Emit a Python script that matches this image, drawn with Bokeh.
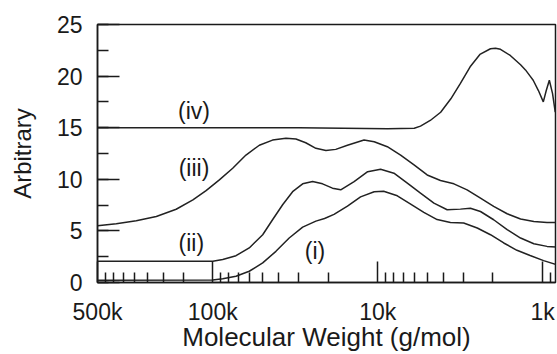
from bokeh.plotting import figure
from bokeh.models import Range1d, FixedTicker, SingleIntervalTicker, ColumnDataSource
from bokeh.embed import file_html
from bokeh.resources import INLINE
from bokeh.core.properties import value

# ---- data ----
mw_i = [500000, 100000, 87000, 72300, 60100, 49800, 41400, 34400, 28500, 23700,
        21000, 18400, 15250, 12700, 10500, 9200, 7600, 6310, 5250, 4360,
        3620, 3010, 2490, 2070, 1720, 1430, 1190, 986, 826]
val_i = [0.22, 0.25, 0.36, 0.61, 1.09, 1.9, 3.02, 4.31, 5.37, 5.95,
         6.2, 6.6, 7.4, 8.3, 8.8, 8.85, 8.4, 7.6, 6.8, 6.1,
         5.82, 5.76, 5.28, 4.63, 3.83, 3.12, 2.61, 2.12, 1.74]

mw_ii = [500000, 100000, 87000, 72300, 60100, 49800, 43400, 37700, 32800, 28500,
         24800, 21600, 18800, 16750, 13900, 11500, 9600, 7970, 6610, 5500,
         4560, 3790, 3150, 2740, 2380, 1980, 1640, 1360, 1130, 940, 826]
val_ii = [2.06, 2.06, 2.22, 2.6, 3.35, 4.63, 6.08, 7.53, 8.8, 9.56,
          9.78, 9.56, 9.14, 8.98, 9.78, 10.74, 10.97, 10.59, 9.62, 8.66,
          7.69, 7.05, 7.11, 7.2, 6.88, 6.08, 5.12, 4.31, 3.76, 3.5, 3.44]

mw_iii = [500000, 384600, 291000, 220000, 166700, 132000, 109800, 91200, 75700, 62900,
          52200, 43400, 36000, 31300, 27300, 23700, 20600, 17950, 15250, 12100,
          10500, 8740, 7260, 6020, 5010, 4160, 3450, 2870, 2380, 1980,
          1640, 1360, 1130, 940, 826]
val_iii = [5.5, 5.7, 5.98, 6.4, 7.1, 8.0, 8.9, 9.94, 11.07, 12.35,
           13.3, 13.8, 13.97, 13.9, 13.54, 13.0, 12.8, 12.9, 13.3, 13.8,
           13.64, 13.16, 12.35, 11.39, 10.42, 9.88, 9.56, 8.98, 8.17, 7.37,
           6.66, 6.15, 5.92, 5.82, 5.82]

mw_iv = [500000, 100000, 30000, 8700, 6000, 5500, 4800, 4150, 3600, 3150,
         2750, 2400, 2070, 1930, 1800, 1570, 1360, 1270, 1190, 1140,
         1060, 990, 950, 910, 870, 838]
val_iv = [15.0, 15.0, 15.0, 14.9, 14.95, 15.15, 15.7, 16.5, 17.8, 19.3,
          20.9, 22.1, 22.65, 22.7, 22.6, 22.0, 21.1, 20.6, 20.0, 19.6,
          18.6, 17.5, 18.6, 19.6, 18.3, 16.5]

label_text = ["(i)", "(ii)", "(iii)", "(iv)"]
label_mw = [24000, 135000, 130000, 130000]
label_val = [3.1, 3.8, 11.1, 16.6]

x_major = [500000, 100000, 10000, 1000]
x_major_labels = ["500k", "100k", "10k", "1k"]
x_minor = [450000, 400000, 350000, 300000, 250000, 200000, 150000,
           90000, 80000, 70000, 60000, 50000, 40000, 30000, 20000,
           9000, 8000, 7000, 6000, 5000, 4000, 3000, 2000, 900]

x_title = "Molecular Weight (g/mol)"
y_title = "Arbitrary"

FONT = "Liberation Sans"
INK = "#1a1a1a"

p = figure(width=557, height=354, x_axis_type="log",
           x_range=Range1d(500000, 835), y_range=Range1d(0, 25),
           output_backend="svg", toolbar_location=None,
           min_border_left=97, min_border_right=2, min_border_top=24,
           min_border_bottom=71)

p.grid.visible = False
p.outline_line_color = INK
p.outline_line_width = 1.5
p.background_fill_color = "white"
p.border_fill_color = "white"

for xs, ys in [(mw_i, val_i), (mw_ii, val_ii), (mw_iii, val_iii), (mw_iv, val_iv)]:
    p.line(xs, ys, line_color="#222222", line_width=1.5)

src = ColumnDataSource(dict(x=label_mw, y=label_val, t=label_text))
p.text(x="x", y="y", text="t", source=src, text_align="center",
       text_baseline="middle", text_font=value(FONT),
       text_font_size=value("23px"), text_color=INK)

# x axis
xa = p.xaxis[0]
xa.ticker = FixedTicker(ticks=x_major, minor_ticks=x_minor)
xa.major_label_overrides = {t: l for t, l in zip(x_major, x_major_labels)}
xa.axis_label = x_title

# y axis
ya = p.yaxis[0]
ya.ticker = SingleIntervalTicker(interval=5, num_minor_ticks=2)
ya.axis_label = y_title

for ax in (xa, ya):
    ax.axis_line_color = INK
    ax.axis_line_width = 1.5
    ax.major_tick_line_color = INK
    ax.minor_tick_line_color = INK
    ax.major_tick_line_width = 1.5
    ax.minor_tick_line_width = 1.5
    ax.major_tick_out = 0
    ax.minor_tick_out = 0
    ax.major_label_text_font = FONT
    ax.major_label_text_font_size = "23px"
    ax.major_label_text_color = INK
    ax.major_label_text_line_height = 1.0
    ax.axis_label_text_font = FONT
    ax.axis_label_text_font_style = "normal"
    ax.axis_label_text_color = INK
    ax.axis_label_text_line_height = 1.0

xa.major_label_standoff = 16
xa.axis_label_standoff = -6
xa.axis_label_text_font_size = "26px"
ya.major_label_standoff = 15
ya.axis_label_text_font_size = "24px"
xa.major_tick_in = 21
xa.minor_tick_in = 10
ya.major_tick_in = 22
ya.minor_tick_in = 11
ya.axis_label_standoff = 18

open("out.html", "w").write(file_html(p, INLINE))
